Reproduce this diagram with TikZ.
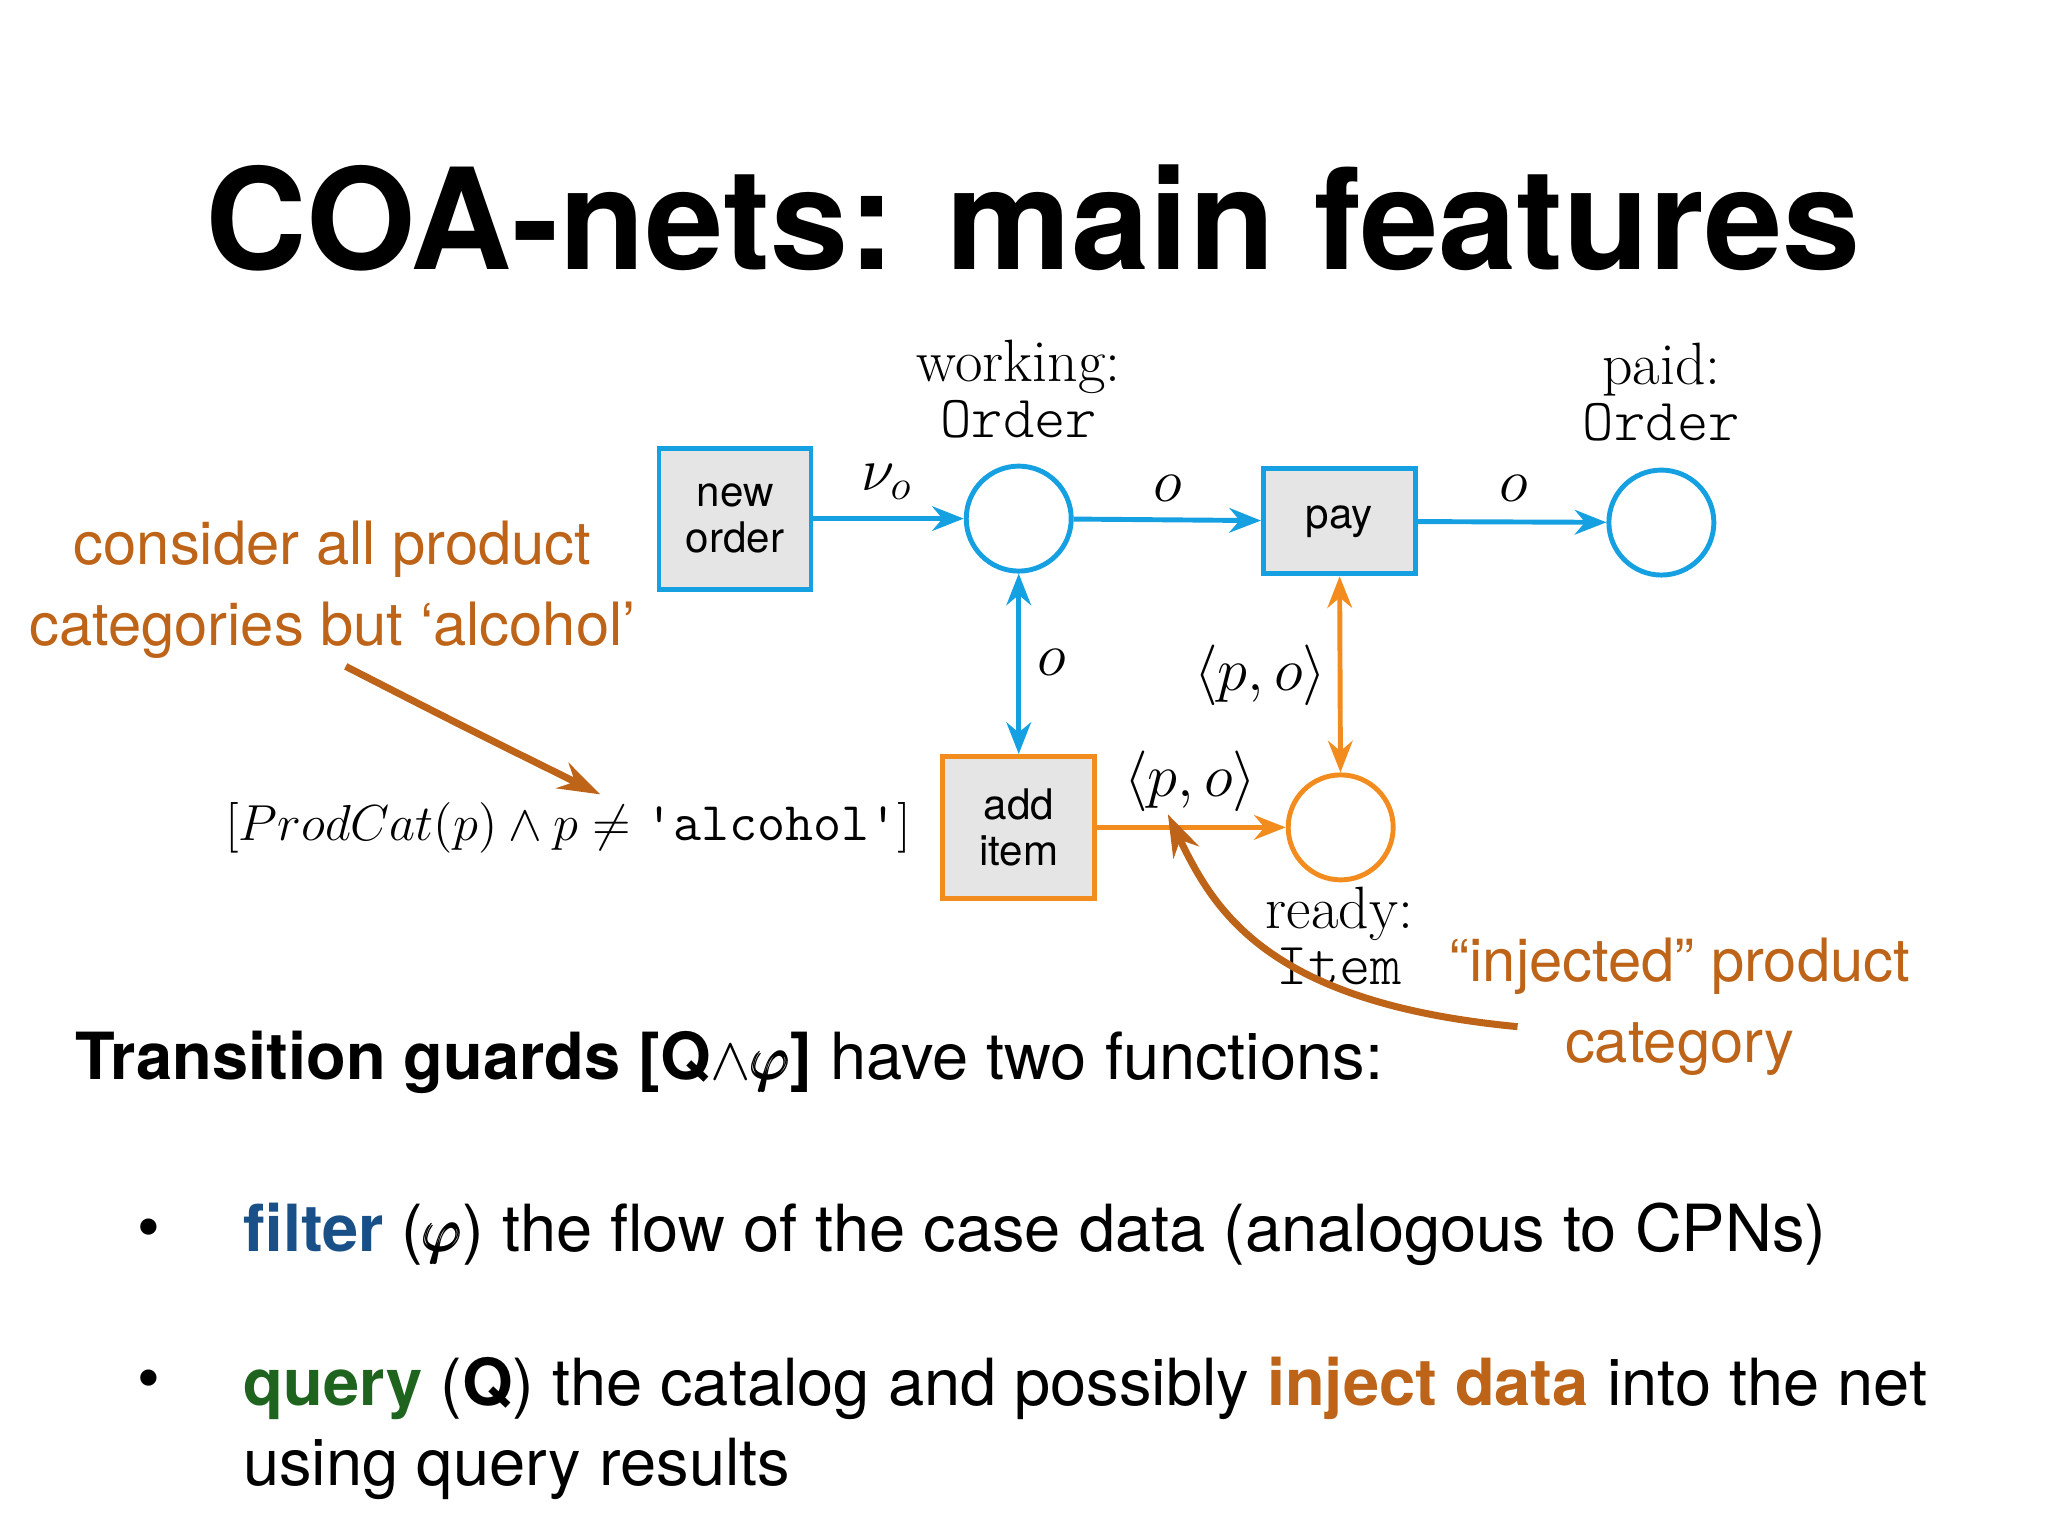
\documentclass[tikz,border=0pt]{standalone}
\usepackage{amsmath,amssymb}
\usepackage{fontspec}
\setmainfont{TeX Gyre Heros}
\newfontfamily\serif{Latin Modern Roman}
\newfontfamily\mono{Latin Modern Mono Light}
\usetikzlibrary{arrows.meta}
\definecolor{cb}{RGB}{20,160,225}
\definecolor{co}{RGB}{243,140,30}
\definecolor{ct}{RGB}{190,100,25}
\definecolor{cdb}{RGB}{25,80,135}
\definecolor{cg}{RGB}{30,100,30}
\begin{document}
\begin{tikzpicture}[x=0.013196cm,y=-0.013196cm,
  tr/.style={line width=1.4pt,fill=black!10,minimum width=1.52cm,inner sep=0pt,font=\fontsize{12}{13}\selectfont,align=center},
  pl/.style={draw,circle,line width=1.4pt,minimum size=1.05cm,inner sep=0pt},
  arc/.style={line width=1.4pt,-{Stealth[length=9pt,width=7pt]}},
  darc/.style={line width=1.4pt,{Stealth[length=9pt,width=7pt]}-{Stealth[length=9pt,width=7pt]}},
  lab/.style={font=\serif\fontsize{17}{19}\selectfont,align=center},
  mlab/.style={font=\fontsize{17}{19}\selectfont},
  body/.style={font=\fontsize{18.5}{22}\selectfont,anchor=west},
  ann/.style={font=\fontsize{17}{23}\selectfont,text=ct,align=center}]
\useasboundingbox (0,0) rectangle (1552,1164);
\node[font=\bfseries\fontsize{40}{46}\selectfont] (title) at (783,165) {COA-nets: main features};
% nets
\node[tr,draw=cb,minimum height=1.41cm] (new) at (557,393) {new\\order};
\node[pl,draw=cb] (work) at (772,393) {};
\node[tr,draw=cb,minimum height=1.05cm] (pay) at (1015,395) {pay};
\node[pl,draw=cb] (paid) at (1259,396) {};
\node[tr,draw=co,minimum height=1.42cm] (add) at (772,627) {add\\item};
\node[pl,draw=co] (ready) at (1016,627) {};
\node[lab] (wl) at (772,295) {working:\\[-3pt]{\mono Order}};
\node[lab] (pl) at (1259,297) {paid:\\[-3pt]{\mono Order}};
\node[lab] (rl) at (1015,709) {ready:\\[-3pt]{\mono Item}};
\draw[arc,cb] (new) -- (work);
\draw[arc,cb] (work) -- (pay);
\draw[arc,cb] (pay) -- (paid);
\draw[darc,cb] (work) -- (add);
\draw[arc,co] (add) -- (ready);
\draw[darc,co] (pay) -- (ready);
\node[mlab] (l1) at (672,365) {$\nu_o$};
\node[mlab] (l2) at (885,370) {$o$};
\node[mlab] (l3) at (1147,370) {$o$};
\node[mlab] (l4) at (797,502) {$o$};
\node[mlab] (l5) at (955,512) {$\langle p,o\rangle$};
\node[mlab] (l6) at (902,592) {$\langle p,o\rangle$};
\node[font=\fontsize{15.5}{18}\selectfont,anchor=east] (g) at (700,627) {$[ProdCat(p)\wedge p\neq{}$\texttt{'alcohol'}$]$};
% annotations
\node[ann] (a1) at (252,447) {consider all product\\categories but ‘alcohol’};
\node[ann] (a2) at (1273,763) {“injected” product\\category};
\draw[ct,line width=2pt,-{Stealth[length=12pt,width=8pt]}] (262,505) .. controls (350,550) .. (455,602);
\draw[ct,line width=2pt,-{Stealth[length=12pt,width=8pt]}] (1150,778) .. controls (960,760) and (920,690) .. (885,617);
% text
\node[body] (t1) at (48,805) {\textbf{Transition guards [Q$\wedge\pmb{\varphi}$]} have two functions:};
\node[body] (b1) at (95,935) {•};
\node[body] (b2) at (95,1050) {•};
\node[body] (t2) at (175,935) {\textbf{\color{cdb}filter} ($\pmb{\varphi}$) the flow of the case data (analogous to CPNs)};
\node[body] (t3) at (175,1052) {\textbf{\color{cg}query} (\textbf{Q}) the catalog and possibly \textbf{\color{ct}inject data} into the net};
\node[body] (t4) at (175,1113) {using query results};
\end{tikzpicture}
\end{document}
